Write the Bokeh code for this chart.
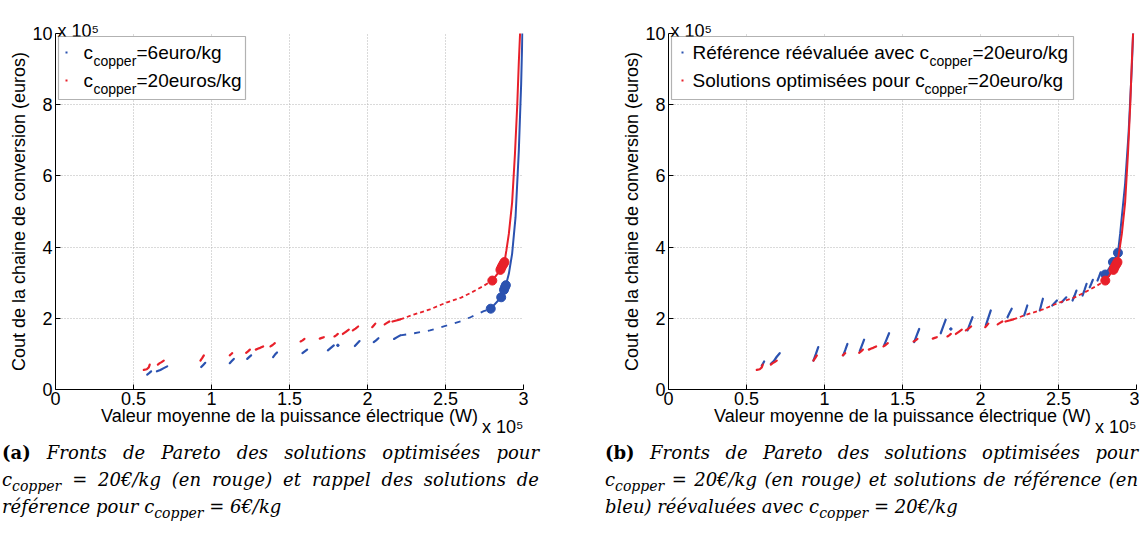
from bokeh.plotting import figure
from bokeh.models import Range1d, FixedTicker, Label, BoxAnnotation, Div, Title
from bokeh.layouts import row, column
from bokeh.embed import file_html
from bokeh.resources import INLINE

# ---------------- data (x in units of 1e5 W, y in units of 1e5 euros) ----------------
x_ticks = [0, 0.5, 1, 1.5, 2, 2.5, 3]
x_tick_labels = ["0", "0.5", "1", "1.5", "2", "2.5", "3"]
y_ticks = [0, 2, 4, 6, 8, 10]
y_tick_labels = ["0", "2", "4", "6", "8", "10"]

# optimised solutions, c_copper = 20 euro/kg (red, both panels)
red_streak_x = [
    [0.566, 0.585, 0.598, 0.604], [0.656, 0.668, 0.680, 0.694], [0.929, 0.940, 0.951],
    [1.117, 1.125, 1.133], [1.222, 1.234, 1.246], [1.284, 1.300, 1.312, 1.331],
    [1.378, 1.392, 1.406], [1.571, 1.584, 1.596], [1.694, 1.707, 1.720],
    [1.788, 1.799, 1.810], [1.842, 1.861, 1.880], [1.906, 1.923, 1.940],
    [2.030, 2.040, 2.050], [2.110, 2.125, 2.140], [2.160, 2.185, 2.210],
]
red_streak_y = [
    [0.55, 0.57, 0.62, 0.70], [0.70, 0.74, 0.77, 0.81], [0.81, 0.88, 0.96],
    [0.96, 0.99, 1.02], [1.03, 1.07, 1.12], [1.12, 1.15, 1.17, 1.21],
    [1.21, 1.25, 1.30], [1.35, 1.38, 1.42], [1.43, 1.45, 1.47],
    [1.49, 1.52, 1.56], [1.56, 1.62, 1.68], [1.66, 1.71, 1.77],
    [1.75, 1.80, 1.85], [1.83, 1.87, 1.91], [1.91, 1.94, 1.97],
]
red_tail_x = [2.21, 2.30, 2.40, 2.51, 2.60, 2.66, 2.74, 2.80]
red_tail_y = [1.97, 2.11, 2.25, 2.45, 2.58, 2.71, 2.90, 3.06]
red_knee_x = [2.80, 2.852, 2.878, 2.890, 2.906, 2.927, 2.945, 2.960, 2.970, 2.980]
red_knee_y = [3.06, 3.36, 3.58, 3.90, 4.37, 5.25, 6.60, 8.00, 9.20, 10.20]
red_big_x = [2.80, 2.852, 2.858, 2.865, 2.872, 2.878]
red_big_y = [3.06, 3.36, 3.42, 3.48, 3.53, 3.58]

# reference solutions, c_copper = 6 euro/kg (blue, panel a)
ref6_streak_x = [
    [0.588, 0.600, 0.613], [0.650, 0.672, 0.694, 0.716], [0.934, 0.947, 0.960],
    [1.117, 1.130, 1.143], [1.229, 1.241, 1.254], [1.395, 1.407, 1.420],
    [1.583, 1.598, 1.613], [1.746, 1.765, 1.784], [1.919, 1.934, 1.949],
    [2.040, 2.055, 2.070], [2.170, 2.190, 2.210],
]
ref6_streak_y = [
    [0.42, 0.46, 0.51], [0.51, 0.55, 0.60, 0.65], [0.63, 0.69, 0.75],
    [0.74, 0.80, 0.86], [0.86, 0.91, 0.96], [0.91, 0.98, 1.04],
    [1.02, 1.07, 1.12], [1.10, 1.17, 1.24], [1.22, 1.29, 1.36],
    [1.33, 1.38, 1.44], [1.42, 1.47, 1.52],
]
ref6_dot_x = [1.81]
ref6_dot_y = [1.24]
ref6_tail_x = [2.21, 2.30, 2.40, 2.51, 2.60, 2.66, 2.745, 2.79]
ref6_tail_y = [1.52, 1.58, 1.66, 1.80, 1.92, 2.03, 2.20, 2.27]
ref6_knee_x = [2.79, 2.857, 2.887, 2.906, 2.927, 2.949, 2.970, 2.985, 2.994]
ref6_knee_y = [2.27, 2.59, 2.93, 3.25, 3.81, 4.84, 6.71, 8.59, 10.20]
ref6_big_x = [2.79, 2.857, 2.875, 2.882, 2.887]
ref6_big_y = [2.27, 2.59, 2.80, 2.88, 2.93]

# reference solutions re-evaluated with c_copper = 20 euro/kg (blue, panel b)
ref20_streak_x = [
    [0.598, 0.606, 0.613], [0.656, 0.675, 0.694, 0.713], [0.929, 0.945, 0.960],
    [1.120, 1.134, 1.147], [1.226, 1.240, 1.254], [1.382, 1.398, 1.414],
    [1.575, 1.591, 1.607], [1.745, 1.761, 1.777], [1.917, 1.933, 1.949],
    [2.034, 2.050, 2.066], [2.173, 2.186, 2.200], [2.280, 2.290, 2.300],
    [2.380, 2.390, 2.400], [2.460, 2.475, 2.490], [2.520, 2.535, 2.550],
    [2.590, 2.603, 2.615], [2.654, 2.667, 2.680], [2.700, 2.710, 2.720],
    [2.750, 2.760, 2.770],
]
ref20_streak_y = [
    [0.67, 0.73, 0.79], [0.72, 0.80, 0.92, 1.02], [0.81, 1.00, 1.19],
    [0.96, 1.12, 1.28], [1.08, 1.24, 1.40], [1.24, 1.41, 1.58],
    [1.33, 1.52, 1.70], [1.58, 1.77, 1.96], [1.66, 1.85, 2.03],
    [1.80, 2.01, 2.22], [2.03, 2.15, 2.27], [2.08, 2.22, 2.36],
    [2.22, 2.39, 2.55], [2.36, 2.43, 2.50], [2.45, 2.52, 2.59],
    [2.50, 2.64, 2.78], [2.64, 2.80, 2.97], [2.87, 2.97, 3.08],
    [3.06, 3.17, 3.29],
]
ref20_dot_x = [1.81]
ref20_dot_y = [1.70]
ref20_knee_x = [2.80, 2.849, 2.881, 2.895, 2.927, 2.949, 2.970, 2.980]
ref20_knee_y = [3.23, 3.58, 3.84, 4.37, 5.78, 7.18, 9.05, 10.20]
ref20_big_x = [2.80, 2.849, 2.881]
ref20_big_y = [3.23, 3.58, 3.84]

BLUE = "#2b52b0"
RED = "#e8202a"
SANS = "Liberation Sans"

FRAME_W, FRAME_H = 468, 356


def make_fig(border_left, border_right):
    p = figure(frame_width=FRAME_W, frame_height=FRAME_H,
               min_border_left=border_left, min_border_right=border_right,
               min_border_top=33, min_border_bottom=49,
               x_range=Range1d(0, 3), y_range=Range1d(0, 10),
               output_backend="svg", toolbar_location=None,
               background_fill_color="white", border_fill_color="white")
    p.outline_line_color = None
    p.xaxis.ticker = FixedTicker(ticks=x_ticks)
    p.yaxis.ticker = FixedTicker(ticks=y_ticks)
    p.xgrid.ticker = FixedTicker(ticks=x_ticks)
    p.ygrid.ticker = FixedTicker(ticks=y_ticks)
    p.xaxis.major_label_overrides = dict(zip(x_ticks, x_tick_labels))
    p.yaxis.major_label_overrides = dict(zip(y_ticks, y_tick_labels))
    p.grid.grid_line_color = "#b4b4b4"
    p.grid.grid_line_dash = "1 2"
    p.grid.grid_line_width = 1
    for ax in (p.xaxis[0], p.yaxis[0]):
        ax.axis_line_color = "black"
        ax.axis_line_width = 1
        ax.major_tick_in = 5
        ax.major_tick_out = 0
        ax.major_tick_line_color = "black"
        ax.minor_tick_line_color = None
        ax.major_label_text_font = SANS
        ax.major_label_text_font_size = "18px"
        ax.major_label_text_color = "black"
        ax.axis_label_text_font = SANS
        ax.axis_label_text_font_size = "18px"
        ax.axis_label_text_font_style = "normal"
        ax.axis_label_text_color = "black"
    p.xaxis.major_label_standoff = 2
    p.xaxis.axis_label_standoff = -2
    p.yaxis.major_label_standoff = 3
    p.yaxis.axis_label_standoff = 0
    p.xaxis.axis_label = "Valeur moyenne de la puissance électrique (W)"
    p.yaxis.axis_label = "Cout de la chaine de conversion (euros)"
    # "x 10^5" exponent markers of both axes
    p.add_layout(Title(text="x 10\u2075", align="left", offset=2, standoff=-14,
                       text_font=SANS, text_font_size="18px", text_font_style="normal",
                       text_color="black"), "above")
    p.add_layout(Title(text="x 10\u2075", align="right", offset=0, standoff=-24,
                       vertical_align="top",
                       text_font=SANS, text_font_size="18px", text_font_style="normal",
                       text_color="black"), "below")
    return p


def draw_series(p, color, sx, sy, tail=None, tail_dash="4 3", knee=None, big=None, dots=None):
    p.multi_line(xs=sx, ys=sy, line_color=color, line_width=2.2, line_cap="round")
    if dots is not None:
        p.scatter(dots[0], dots[1], size=2.5, color=color)
    if tail is not None:
        p.line(tail[0], tail[1], line_color=color, line_width=1.8, line_dash=tail_dash)
    if knee is not None:
        p.line(knee[0], knee[1], line_color=color, line_width=2)
    if big is not None:
        p.scatter(big[0], big[1], size=9, color=color)


def add_legend(p, right, dot_x, entries):
    p.add_layout(BoxAnnotation(left=3, right=right, top=353, bottom=290,
                               left_units="screen", right_units="screen",
                               top_units="screen", bottom_units="screen",
                               fill_color="white", fill_alpha=1.0,
                               line_color="black", line_width=1.2, level="overlay"))
    for (color, y, main, main_x, sub_x, tail, tail_x) in entries:
        p.add_layout(BoxAnnotation(left=dot_x, right=dot_x + 2, top=y + 1, bottom=y - 1,
                                   left_units="screen", right_units="screen",
                                   top_units="screen", bottom_units="screen",
                                   fill_color=color, fill_alpha=1.0, line_color=None,
                                   level="overlay"))
        for (txt, x, yy, fs) in ((main, main_x, y, "19px"), ("copper", sub_x, y - 8, "14px"),
                                 (tail, tail_x, y, "19px")):
            p.add_layout(Label(x=x, y=yy, x_units="screen", y_units="screen", text=txt,
                               text_font=SANS, text_font_size=fs, text_baseline="middle",
                               text_color="black", level="overlay"))


# ---------------- panel (a) ----------------
pa = make_fig(55, 49)
draw_series(pa, BLUE, ref6_streak_x, ref6_streak_y, tail=(ref6_tail_x, ref6_tail_y),
            tail_dash="6 8", knee=(ref6_knee_x, ref6_knee_y), big=(ref6_big_x, ref6_big_y),
            dots=(ref6_dot_x, ref6_dot_y))
draw_series(pa, RED, red_streak_x, red_streak_y, tail=(red_tail_x, red_tail_y),
            knee=(red_knee_x, red_knee_y), big=(red_big_x, red_big_y))
add_legend(pa, 190, 10, [
    (BLUE, 337, "c", 28, 38, "=6euro/kg", 81),
    (RED, 309, "c", 28, 38, "=20euros/kg", 81),
])

# ---------------- panel (b) ----------------
pb = make_fig(86, 3)
draw_series(pb, BLUE, ref20_streak_x, ref20_streak_y,
            knee=(ref20_knee_x, ref20_knee_y), big=(ref20_big_x, ref20_big_y),
            dots=(ref20_dot_x, ref20_dot_y))
draw_series(pb, RED, red_streak_x, red_streak_y, tail=(red_tail_x, red_tail_y),
            knee=(red_knee_x, red_knee_y), big=(red_big_x, red_big_y))
add_legend(pb, 405, 13, [
    (BLUE, 337, "Référence réévaluée avec c", 24, 261, "=20euro/kg", 304),
    (RED, 309, "Solutions optimisées pour c", 24, 256, "=20euro/kg", 299),
])

# ---------------- captions ----------------
SUB = '<span style="font-size:14px;position:relative;top:5px;">copper</span>'
BASE = ("font-family:'DejaVu Serif';font-size:18px;line-height:26.5px;color:#000;"
        "margin-top:-3px;")
JUST = "text-align:justify;text-align-last:justify;white-space:nowrap;"


def caption(tag, l1, l2, l3, shift, width):
    return (f'<div style="{BASE}margin-left:{shift}px;width:{width}px;">'
            f'<div style="{JUST}"><b style="font-style:normal;">({tag})</b> <i>{l1}</i></div>'
            f'<div style="{JUST}"><i>{l2}</i></div>'
            f'<div style="text-align:left;white-space:nowrap;"><i>{l3}</i></div></div>')


cap_a = caption("a", "Fronts de Pareto des solutions optimisées pour",
                f"c{SUB} = 20€/kg (en rouge) et rappel des solutions de",
                f"référence pour c{SUB} = 6€/kg", -3, 537)
cap_b = caption("b", "Fronts de Pareto des solutions optimisées pour",
                f"c{SUB} = 20€/kg (en rouge) et solutions de référence (en",
                f"bleu) réévaluées avec c{SUB} = 20€/kg", 18, 533)

div_a = Div(text=cap_a, width=572, height=81)
div_b = Div(text=cap_b, width=557, height=81)

layout = row(column(pa, div_a), column(pb, div_b))

open("out.html", "w").write(file_html(layout, INLINE))
